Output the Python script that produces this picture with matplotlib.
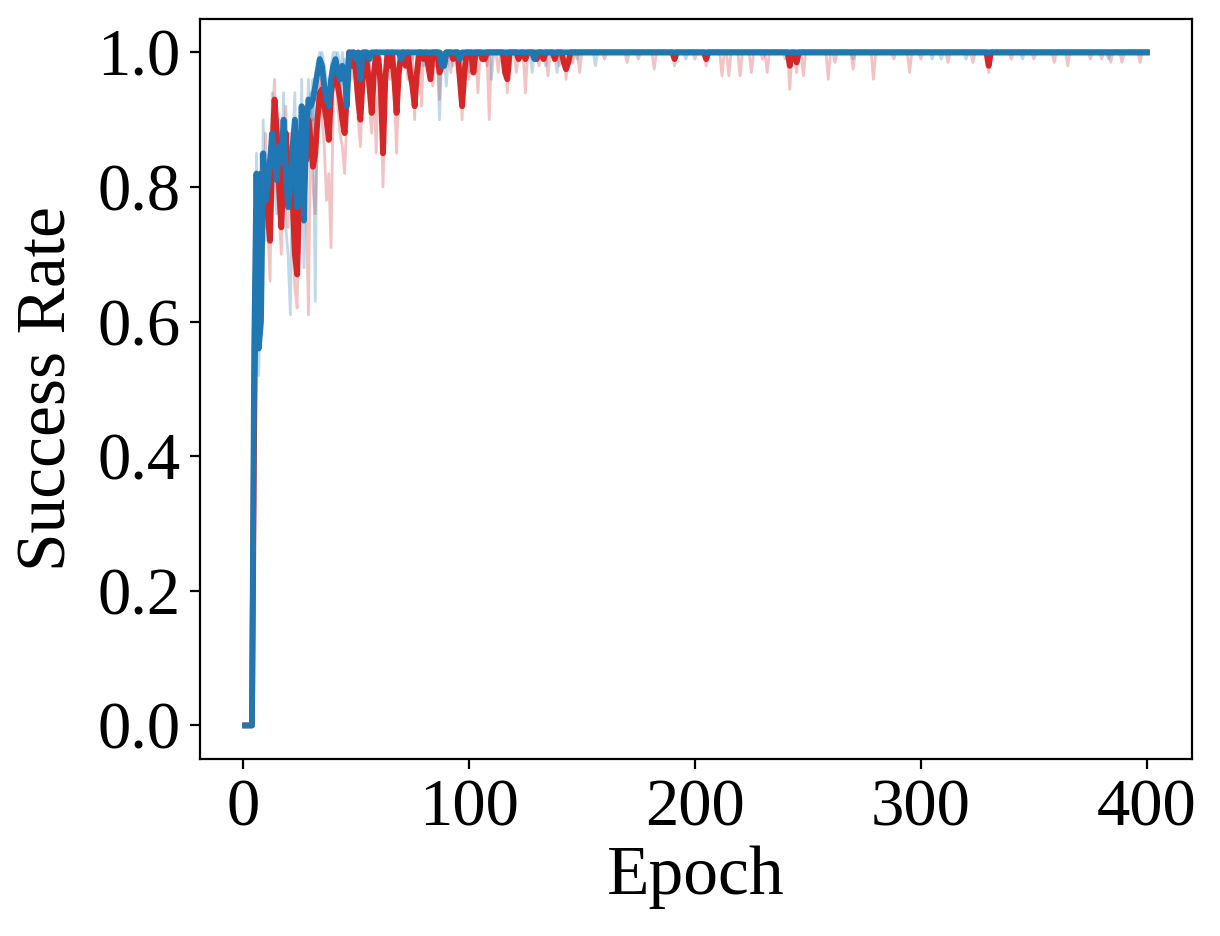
import numpy as np
import matplotlib.pyplot as plt

plt.rcParams['font.family'] = ['Liberation Serif', 'DejaVu Serif']

n_epochs = 400
epochs = np.arange(1, n_epochs + 1)

# thick (main) runs, early part read epoch by epoch
red_early = [0, 0, 0, 0, 0.45, 0.75, 0.78, 0.82, 0.77, 0.80,
             0.76, 0.72, 0.85, 0.93, 0.88, 0.80, 0.74, 0.82, 0.88, 0.80,
             0.85, 0.78, 0.70, 0.67, 0.80, 0.88, 0.86, 0.84, 0.90, 0.87,
             0.83, 0.85, 0.90, 0.94, 0.945, 0.92, 0.90, 0.87, 0.94, 0.96,
             0.97, 0.95, 0.93, 0.90, 0.88, 0.94, 1.0, 0.98, 1.0, 0.97,
             0.93, 0.90, 0.96, 1.0, 0.98, 0.95, 0.91, 0.97, 1.0, 0.99,
             0.95, 0.85, 0.96, 1.0, 0.98, 1.0, 0.96, 0.91, 0.97, 1.0]
red_dips = {72: 0.98, 74: 0.97, 75: 0.95, 76: 0.92, 77: 0.97, 80: 0.99,
            82: 0.98, 83: 0.96, 87: 0.97, 88: 0.98, 89: 0.98, 93: 0.99,
            96: 0.96, 97: 0.92, 98: 0.97, 102: 0.97, 106: 0.99, 107: 0.99,
            116: 0.97, 117: 0.96, 122: 0.99, 125: 0.99, 130: 0.99, 133: 0.99,
            138: 0.99, 142: 0.985, 143: 0.975, 144: 0.985, 191: 0.99,
            205: 0.99, 242: 0.98, 245: 0.985, 330: 0.98}

blue_early = [0, 0, 0, 0, 0.56, 0.82, 0.56, 0.60, 0.85, 0.78,
              0.80, 0.84, 0.88, 0.84, 0.81, 0.86, 0.84, 0.90, 0.82, 0.77,
              0.80, 0.86, 0.90, 0.77, 0.78, 0.92, 0.75, 0.88, 0.93, 0.92,
              0.93, 0.95, 0.97, 0.99, 0.98, 0.95, 0.93, 0.92, 0.96, 0.98,
              0.99, 0.97, 0.96, 0.98, 0.97, 0.92, 1.0, 1.0, 1.0, 0.99,
              1.0, 0.96]
blue_dips = {56: 0.99, 70: 0.99, 88: 0.98, 89: 0.98, 96: 0.99, 129: 0.99}

# faint individual runs
red_faint_a_early = [0, 0, 0, 0, 0.50, 0.80, 0.72, 0.85, 0.70, 0.88,
                     0.74, 0.66, 0.90, 0.96, 0.80, 0.76, 0.70, 0.86, 0.92, 0.74,
                     0.88, 0.72, 0.65, 0.62, 0.84, 0.90, 0.80, 0.78, 0.61, 0.92,
                     0.80, 0.76, 0.88, 0.96, 0.90, 0.86, 0.78, 0.82, 0.71, 0.94,
                     0.98, 0.92, 0.88, 0.86, 0.82, 0.90, 1.0, 0.96, 1.0, 0.94,
                     0.90, 0.86, 0.94, 1.0, 0.96, 0.92, 0.88, 0.95, 0.85, 0.98,
                     0.93, 0.80, 0.94, 1.0, 0.96, 0.98, 0.94, 0.85, 0.95, 1.0]
red_faint_a_dips = {73: 0.96, 76: 0.90, 79: 0.92, 84: 0.95, 87: 0.93, 92: 0.97,
                    97: 0.90, 100: 0.96, 104: 0.94, 109: 0.90, 113: 0.97,
                    117: 0.94, 121: 0.97, 125: 0.94, 131: 0.98, 135: 0.965,
                    140: 0.98, 143: 0.96, 149: 0.97, 160: 0.99, 170: 0.985,
                    182: 0.975, 191: 0.98, 200: 0.99, 205: 0.98, 212: 0.965,
                    215: 0.965, 220: 0.965, 225: 0.97, 232: 0.97, 242: 0.945,
                    245: 0.97, 248: 0.965, 259: 0.96, 270: 0.975, 279: 0.96,
                    288: 0.99, 295: 0.97, 312: 0.985, 323: 0.985, 330: 0.97,
                    340: 0.99, 359: 0.985, 365: 0.98, 375: 0.99, 384: 0.985,
                    389: 0.985, 397: 0.985}
red_faint_b_early = [0, 0, 0, 0, 0.42, 0.70, 0.82, 0.78, 0.84, 0.74,
                     0.80, 0.78, 0.80, 0.90, 0.92, 0.84, 0.78, 0.80, 0.84, 0.86,
                     0.80, 0.84, 0.76, 0.72, 0.78, 0.86, 0.92, 0.88, 0.86, 0.84,
                     0.90, 0.90, 0.92, 0.92, 0.98, 0.94, 0.92, 0.90, 0.94, 0.96,
                     0.96, 0.98, 0.96, 0.92, 0.94, 0.96, 1.0, 1.0, 0.98, 1.0,
                     0.96, 0.94, 0.98, 1.0, 1.0, 0.98, 0.94, 0.98, 1.0, 1.0,
                     0.97, 0.90, 0.98, 1.0, 1.0, 1.0, 0.98, 0.94, 0.98, 1.0]
red_faint_b_dips = {78: 0.97, 85: 0.98, 95: 0.97, 108: 0.98, 118: 0.97,
                    128: 0.99, 146: 0.985, 175: 0.99, 230: 0.99, 262: 0.985,
                    300: 0.99, 350: 0.99, 380: 0.99}

blue_faint_a_early = [0, 0, 0, 0, 0.50, 0.85, 0.62, 0.58, 0.90, 0.72,
                      0.84, 0.80, 0.94, 0.80, 0.76, 0.90, 0.80, 0.94, 0.74, 0.70,
                      0.61, 0.86, 0.94, 0.72, 0.70, 0.96, 0.68, 0.84, 0.96, 0.90,
                      0.96, 0.63, 0.98, 1.0, 0.96, 0.92, 0.88, 0.90, 0.98, 1.0,
                      1.0, 0.94, 0.92, 1.0, 0.95, 0.88, 1.0, 1.0, 1.0, 0.97,
                      1.0, 0.94, 1.0, 1.0, 1.0, 0.98, 1.0, 1.0, 1.0, 1.0]
blue_faint_a_dips = {64: 0.98, 70: 0.97, 80: 0.98, 87: 0.90, 90: 0.95,
                     96: 0.97, 100: 0.97, 110: 0.96, 128: 0.97, 134: 0.98,
                     139: 0.97, 156: 0.98, 240: 0.99, 305: 0.99, 309: 0.99,
                     320: 0.99, 383: 0.99}
blue_faint_b_early = [0, 0, 0, 0, 0.60, 0.78, 0.52, 0.66, 0.80, 0.84,
                      0.76, 0.88, 0.82, 0.88, 0.86, 0.82, 0.88, 0.86, 0.90, 0.84,
                      0.86, 0.84, 0.86, 0.82, 0.86, 0.88, 0.82, 0.92, 0.90, 0.94,
                      0.90, 0.96, 0.96, 0.98, 1.0, 0.98, 0.96, 0.94, 0.94, 0.96,
                      0.98, 1.0, 0.98, 0.96, 0.99, 0.96, 1.0, 1.0, 0.99, 1.0,
                      1.0, 0.98, 1.0, 1.0, 1.0, 1.0, 1.0, 1.0, 1.0, 1.0]
blue_faint_b_dips = {66: 0.99, 75: 0.99, 93: 0.98, 115: 0.99, 148: 0.99,
                     196: 0.99, 270: 0.99, 345: 0.99}


def build(early, dips):
    y = np.ones(n_epochs)
    y[:len(early)] = early
    for ep, v in dips.items():
        y[ep - 1] = v
    return y


red = build(red_early, red_dips)
blue = build(blue_early, blue_dips)
red_faint = [build(red_faint_a_early, red_faint_a_dips),
             build(red_faint_b_early, red_faint_b_dips)]
blue_faint = [build(blue_faint_a_early, blue_faint_a_dips),
              build(blue_faint_b_early, blue_faint_b_dips)]

red_c = '#d62728'
blue_c = '#1f77b4'

fig = plt.figure(figsize=(6.1, 4.68), dpi=200)
ax = fig.add_axes([0.164, 0.189, 0.813, 0.791])

for y in red_faint:
    ax.plot(epochs, y, color=red_c, alpha=0.28, lw=1.0)
for y in blue_faint:
    ax.plot(epochs, y, color=blue_c, alpha=0.28, lw=1.0)
ax.plot(epochs, red, color=red_c, lw=2.1)
ax.plot(epochs, blue, color=blue_c, lw=2.1)

ax.set_xticks([0, 100, 200, 300, 400])
ax.set_yticks([0.0, 0.2, 0.4, 0.6, 0.8, 1.0])
ax.set_yticklabels(['0.0', '0.2', '0.4', '0.6', '0.8', '1.0'])
ax.tick_params(labelsize=24)
ax.set_xlabel('Epoch', fontsize=25, labelpad=2)
ax.set_ylabel('Success Rate', fontsize=25, labelpad=6)

fig.savefig('out.png', dpi=200)
